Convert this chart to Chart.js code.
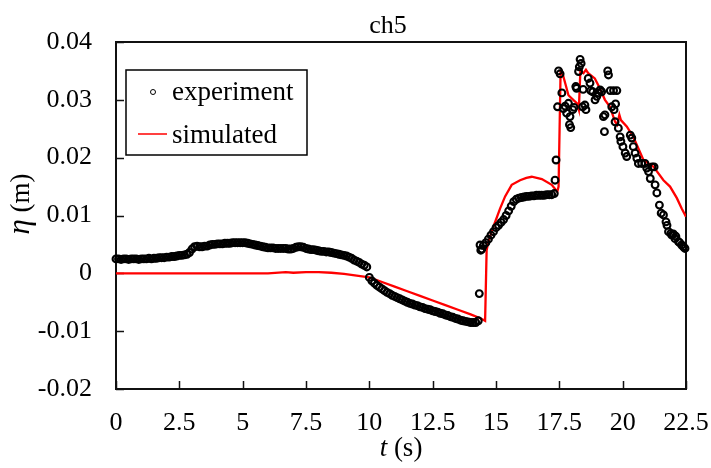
<!DOCTYPE html>
<html>
<head>
<meta charset="utf-8">
<script src="https://cdn.jsdelivr.net/npm/chart.js@4.4.0/dist/chart.umd.min.js"></script>
<style>
  html, body { margin: 0; padding: 0; background: #fff; }
  #wrap { width: 711px; height: 468px; }
</style>
</head>
<body>
<div id="wrap"><canvas id="mycanvas" width="711" height="468"></canvas></div>
<script>
// ---- data ----
var xTickLabels = ['0', '2.5', '5', '7.5', '10', '12.5', '15', '17.5', '20', '22.5'];
var yTickLabels = ['-0.02', '-0.01', '0', '0.01', '0.02', '0.03', '0.04'];

// dense measured band, one sample every 0.1 s
var bandStep = 0.1;
var bandAStart = 0.0;
var bandAValues = [
    0.0025, 0.0025, 0.0024, 0.0025, 0.0025, 0.0024, 0.0025, 0.0025, 0.0025, 0.0024,
    0.0025, 0.0025, 0.0025, 0.0026, 0.0025, 0.0026, 0.0026, 0.0027, 0.0027, 0.0027,
    0.0028, 0.0028, 0.0029, 0.0029, 0.0030, 0.0031, 0.0031, 0.0032, 0.0033, 0.0036,
    0.0042, 0.0046, 0.0047, 0.0046, 0.0046, 0.0047, 0.0047, 0.0049, 0.0050, 0.0050,
    0.0051, 0.0051, 0.0051, 0.0052, 0.0052, 0.0052, 0.0053, 0.0053, 0.0053, 0.0053,
    0.0053, 0.0053, 0.0052, 0.0051, 0.0050, 0.0049, 0.0048, 0.0047, 0.0046, 0.0045,
    0.0044, 0.0044, 0.0044, 0.0043, 0.0043, 0.0043, 0.0043, 0.0043, 0.0042, 0.0042,
    0.0043, 0.0045, 0.0046, 0.0046, 0.0045, 0.0043, 0.0042, 0.0041, 0.0041, 0.0040,
    0.0039, 0.0038, 0.0038, 0.0037, 0.0037, 0.0036, 0.0035, 0.0034, 0.0033, 0.0032,
    0.0031, 0.0030, 0.0028, 0.0026, 0.0023, 0.0021, 0.0019, 0.0016, 0.0014, 0.0011
];
var bandBStart = 10.0;
var bandBValues = [
    -0.0007, -0.0013, -0.0017, -0.0021, -0.0024, -0.0027, -0.0030, -0.0033, -0.0035, -0.0038,
    -0.0040, -0.0042, -0.0044, -0.0046, -0.0048, -0.0050, -0.0052, -0.0053, -0.0055, -0.0056,
    -0.0058, -0.0059, -0.0061, -0.0062, -0.0063, -0.0065, -0.0066, -0.0067, -0.0069, -0.0070,
    -0.0072, -0.0073, -0.0075, -0.0076, -0.0078, -0.0079, -0.0081, -0.0082, -0.0083, -0.0084,
    -0.0085, -0.0085, -0.0085, -0.0082
];
var bandCStart = 14.5;
var bandCValues = [
    0.0048, 0.0053, 0.0059, 0.0066, 0.0072, 0.0079, 0.0083, 0.0088, 0.0093, 0.0100,
    0.0108, 0.0116, 0.0124, 0.0128, 0.0130, 0.0131, 0.0132, 0.0133, 0.0133, 0.0134,
    0.0134, 0.0135, 0.0135, 0.0135, 0.0135, 0.0136, 0.0136, 0.0136, 0.0138
];

// scattered measured points
var scatterT = [
    14.34, 14.37, 14.40, 14.44, 17.33, 17.37, 17.43, 17.47, 17.53, 17.60,
    17.66, 17.73, 17.79, 17.86, 17.90, 17.92, 17.95, 18.03, 18.08, 18.15,
    18.18, 18.26, 18.29, 18.32, 18.36, 18.42, 18.44, 18.51, 18.55, 18.64,
    18.71, 18.74, 18.82, 18.91, 18.98, 19.04, 19.11, 19.17, 19.24, 19.28,
    19.30, 19.41, 19.44, 19.51, 19.57, 19.64, 19.66, 19.70, 19.72, 19.77,
    19.83, 19.90, 19.93, 20.01, 20.10, 20.16, 20.30, 20.36, 20.42, 20.49,
    20.56, 20.62, 20.75, 20.88, 20.95, 21.02, 21.09, 21.16, 21.24, 21.28,
    21.35, 21.45, 21.52, 21.61, 21.71, 21.75, 21.81, 21.90, 21.94, 22.00,
    22.07, 22.10, 22.20, 22.25, 22.33, 22.40, 22.46
];
var scatterV = [
    -0.0035, 0.0049, 0.0040, 0.0042, 0.0161, 0.0196, 0.0288, 0.0350, 0.0345, 0.0312,
    0.0285, 0.0289, 0.0277, 0.0294, 0.0257, 0.0271, 0.0252, 0.0283, 0.0287, 0.0323,
    0.0320, 0.0349, 0.0357, 0.0370, 0.0363, 0.0288, 0.0318, 0.0291, 0.0283, 0.0337,
    0.0329, 0.0316, 0.0314, 0.0300, 0.0306, 0.0312, 0.0317, 0.0314, 0.0271, 0.0245,
    0.0274, 0.0350, 0.0343, 0.0316, 0.0288, 0.0316, 0.0283, 0.0262, 0.0293, 0.0316,
    0.0251, 0.0236, 0.0228, 0.0219, 0.0208, 0.0202, 0.0239, 0.0234, 0.0219, 0.0208,
    0.0199, 0.0190, 0.0190, 0.0190, 0.0182, 0.0176, 0.0164, 0.0184, 0.0184, 0.0153,
    0.0139, 0.0118, 0.0104, 0.0101, 0.0089, 0.0083, 0.0072, 0.0069, 0.0066, 0.0068,
    0.0060, 0.0064, 0.0055, 0.0053, 0.0049, 0.0046, 0.0043
];

// simulated curve
var simT = [
    0, 1, 2, 3, 4, 5, 6, 6.7, 7, 7.5,
    8, 8.5, 9, 9.5, 10, 10.5, 11, 11.5, 12, 12.5,
    13, 13.5, 14, 14.4, 14.57, 14.63, 14.7, 14.9, 15.16, 15.36,
    15.62, 15.95, 16.2, 16.41, 16.81, 17.2, 17.42, 17.47, 17.55, 17.6,
    17.73, 17.86, 18.05, 18.2, 18.27, 18.33, 18.45, 18.55, 18.64, 18.9,
    19.1, 19.3, 19.5, 19.7, 19.78, 19.87, 19.93, 20.16, 20.42, 20.56,
    20.82, 21.02, 21.22, 21.61, 21.87, 22.14, 22.33, 22.5
];
var simV = [
    0, 0, 0, 0, 0, 0, 0, 0.0002, 0.0001, 0.0002,
    0.0002, 0.0001, -0.0001, -0.0004, -0.0007, -0.0015, -0.0023, -0.0031, -0.0039, -0.0047,
    -0.0055, -0.0063, -0.0071, -0.0078, -0.0082, 0.0040, 0.0055, 0.0081, 0.0112, 0.0133,
    0.0153, 0.0161, 0.0165, 0.0167, 0.0163, 0.0153, 0.0141, 0.0150, 0.0350, 0.0350,
    0.0329, 0.0308, 0.0300, 0.0294, 0.0283, 0.0349, 0.0346, 0.0352, 0.0346, 0.0337,
    0.0320, 0.0300, 0.0288, 0.0262, 0.0257, 0.0274, 0.0265, 0.0254, 0.0236, 0.0222,
    0.0196, 0.0190, 0.0184, 0.0161, 0.0150, 0.0130, 0.0112, 0.0098
];

// ---- build point lists ----
var expPoints = [];
function addBand(start, values) {
    for (var i in values) {
        expPoints.push({ x: +(start + i * bandStep).toFixed(2), y: values[i] });
    }
}
addBand(bandAStart, bandAValues);
addBand(bandBStart, bandBValues);
for (var i in scatterT) {
    if (i == 4) addBand(bandCStart, bandCValues);
    expPoints.push({ x: scatterT[i], y: scatterV[i] });
}
var simPoints = [];
for (var j in simT) {
    simPoints.push({ x: simT[j], y: simV[j] });
}

var serif = "'Liberation Serif', 'Times New Roman', serif";

// frame, inward ticks, title, axis names and legend
var decor = {
    id: 'decor',
    beforeDatasetsDraw: function (chart) {
        var ctx = chart.ctx, a = chart.chartArea;
        var xs = chart.scales.x, ys = chart.scales.y;
        ctx.save();
        ctx.strokeStyle = '#111';
        ctx.lineWidth = 2;
        ctx.strokeRect(a.left, a.top, a.right - a.left, a.bottom - a.top);
        ctx.beginPath();
        ys.ticks.forEach(function (t) {
            var py = Math.round(ys.getPixelForValue(t.value)) + 0.5;
            ctx.moveTo(a.left, py);
            ctx.lineTo(a.left + 8, py);
        });
        xs.ticks.forEach(function (t) {
            var px = Math.round(xs.getPixelForValue(t.value)) + 0.5;
            ctx.moveTo(px, a.bottom);
            ctx.lineTo(px, a.bottom - 8);
        });
        ctx.lineWidth = 1.5;
        ctx.stroke();
        ctx.restore();
    },
    afterDraw: function (chart) {
        var ctx = chart.ctx, a = chart.chartArea;
        ctx.save();
        ctx.fillStyle = '#000';
        ctx.textBaseline = 'alphabetic';

        // title
        ctx.font = '26px ' + serif;
        ctx.textAlign = 'center';
        ctx.fillText('ch5', 388, 33);

        // x axis name: t (s)
        ctx.textAlign = 'left';
        ctx.font = 'italic 27px ' + serif;
        var wT = ctx.measureText('t').width;
        ctx.font = '27px ' + serif;
        var wS = ctx.measureText(' (s)').width;
        var x0 = (a.left + a.right) / 2 - (wT + wS) / 2;
        ctx.font = 'italic 27px ' + serif;
        ctx.fillText('t', x0, 456);
        ctx.font = '27px ' + serif;
        ctx.fillText(' (s)', x0 + wT, 456);

        // y axis name: η (m)
        ctx.save();
        ctx.translate(29, 204);
        ctx.rotate(-Math.PI / 2);
        ctx.font = 'italic 31px ' + serif;
        var wE = ctx.measureText('\u03b7').width;
        ctx.font = '27px ' + serif;
        var wM = ctx.measureText(' (m)').width;
        var s0 = -(wE + wM) / 2;
        ctx.font = 'italic 31px ' + serif;
        ctx.fillText('\u03b7', s0, 0);
        ctx.font = '27px ' + serif;
        ctx.fillText(' (m)', s0 + wE, 0);
        ctx.restore();

        // legend
        ctx.strokeStyle = '#000';
        ctx.lineWidth = 1.5;
        ctx.fillStyle = '#fff';
        ctx.fillRect(126, 70, 181, 85);
        ctx.strokeRect(126, 70, 181, 85);
        ctx.beginPath();
        ctx.arc(153, 92, 2.5, 0, Math.PI * 2);
        ctx.lineWidth = 1;
        ctx.stroke();
        ctx.beginPath();
        ctx.moveTo(138, 134);
        ctx.lineTo(167, 134);
        ctx.strokeStyle = '#ff0000';
        ctx.lineWidth = 1.5;
        ctx.stroke();
        ctx.fillStyle = '#000';
        ctx.font = '27px ' + serif;
        ctx.fillText('experiment', 172, 100);
        ctx.fillText('simulated', 172, 143);
        ctx.restore();
    }
};

var ctx = document.getElementById('mycanvas');
var chart = new Chart(ctx, {
    type: 'scatter',
    data: {
        datasets: [{
            label: 'experiment',
            data: expPoints,
            pointStyle: 'circle',
            pointRadius: 3.4,
            pointBorderWidth: 2.1,
            borderColor: '#000',
            backgroundColor: 'rgba(255,255,255,0)',
            showLine: false,
            clip: false
        }, {
            label: 'simulated',
            data: simPoints,
            showLine: true,
            borderColor: '#ff0000',
            borderWidth: 2.3,
            pointRadius: 0,
            tension: 0
        }]
    },
    options: {
        responsive: false,
        animation: false,
        layout: { padding: { top: 42, right: 25, left: 0, bottom: 0 } },
        plugins: {
            legend: { display: false },
            title: { display: false },
            tooltip: { enabled: false }
        },
        scales: {
            x: {
                type: 'linear',
                min: 0,
                max: 22.5,
                grid: { display: false, drawTicks: false },
                border: { display: false },
                ticks: {
                    stepSize: 2.5,
                    maxRotation: 0,
                    autoSkip: false,
                    padding: 19,
                    color: '#000',
                    font: { family: serif, size: 26 },
                    callback: function (v, i) { return xTickLabels[i]; }
                },
                afterFit: function (s) {
                    s.height = 79;
                    s.paddingLeft = 0;
                    s.paddingRight = 0;
                }
            },
            y: {
                min: -0.02,
                max: 0.04,
                grid: { display: false, drawTicks: false },
                border: { display: false },
                ticks: {
                    stepSize: 0.01,
                    autoSkip: false,
                    padding: 24,
                    color: '#000',
                    font: { family: serif, size: 26 },
                    callback: function (v, i) { return yTickLabels[i]; }
                },
                afterFit: function (s) {
                    s.width = 116;
                    s.paddingTop = 0;
                    s.paddingBottom = 0;
                }
            }
        }
    },
    plugins: [decor]
});
</script>
</body>
</html>
